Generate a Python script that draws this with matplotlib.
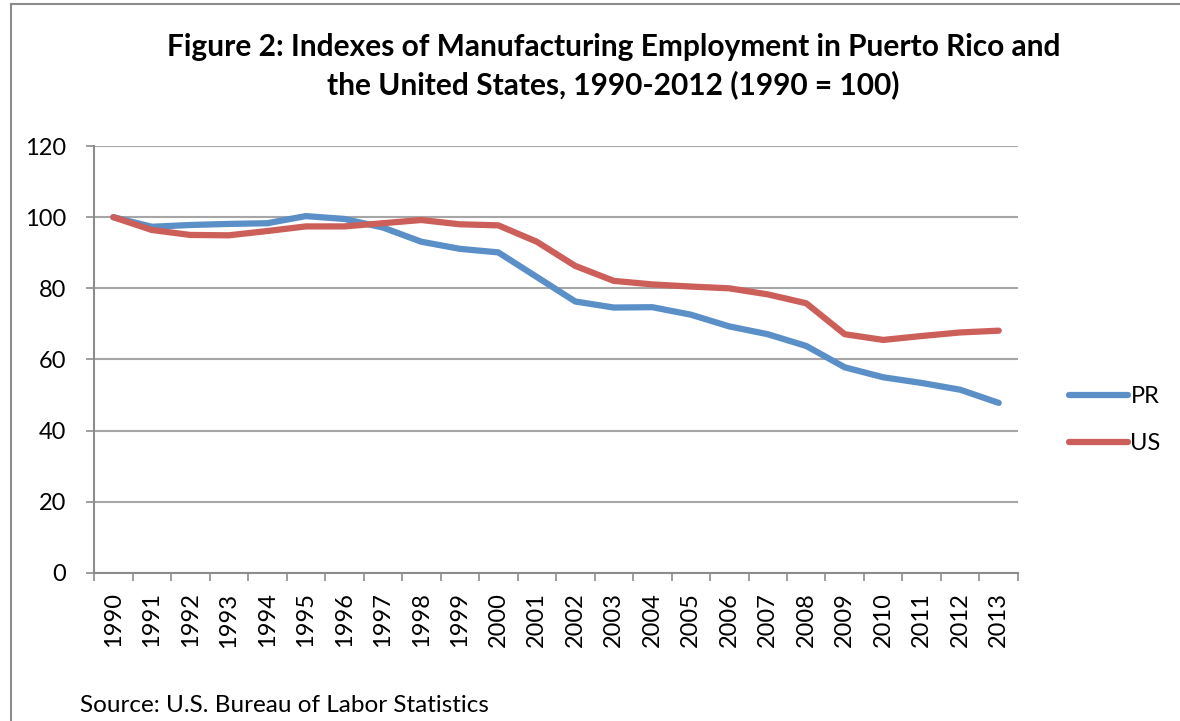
import matplotlib.pyplot as plt
from matplotlib.lines import Line2D

years = [str(y) for y in range(1990, 2014)]
pr = [100, 97.3, 97.8, 98.1, 98.3, 100.3, 99.5, 97.1, 93.1, 91.1, 90.1, 83.2,
      76.3, 74.6, 74.7, 72.6, 69.3, 67.1, 63.8, 57.8, 55.0, 53.4, 51.5, 47.8]
us = [100, 96.4, 95.0, 94.9, 96.1, 97.4, 97.4, 98.3, 99.2, 98.0, 97.7, 93.1,
      86.3, 82.1, 81.1, 80.5, 80.0, 78.3, 75.8, 67.1, 65.5, 66.6, 67.6, 68.1]

fnt = 'Lato'
fig = plt.figure(figsize=(11.8, 7.21), dpi=100)
ax = fig.add_axes([0.0797, 0.2053, 0.783, 0.5922])

x = range(len(years))
ax.plot(x, pr, color='#5b8fc7', lw=4.5, solid_capstyle='round', solid_joinstyle='round', label='PR')
ax.plot(x, us, color='#cd5f5a', lw=4.5, solid_capstyle='round', solid_joinstyle='round', label='US')

ax.set_xlim(-0.5, len(years) - 0.5)
ax.set_ylim(0, 120)
ax.set_yticks(range(0, 121, 20))
ax.set_xticks(list(x))
ax.set_xticklabels(years, rotation=90, fontsize=17, family=fnt)
ax.set_xticks([i - 0.5 for i in range(len(years) + 1)], minor=True)
ax.tick_params(axis='x', which='major', length=0, pad=14)
ax.tick_params(axis='x', which='minor', length=6, color='#8c8c8c', width=1.2)
ax.tick_params(axis='y', length=6, color='#8c8c8c', width=1.2, direction='out', pad=14)
for lab in ax.get_yticklabels():
    lab.set_fontsize(17)
    lab.set_family(fnt)
ax.grid(axis='y', color='#a6a6a6', lw=1.5)
ax.set_axisbelow(True)
for s in ['top', 'right']:
    ax.spines[s].set_visible(False)
ax.spines['left'].set_color('#8c8c8c')
ax.spines['bottom'].set_color('#8c8c8c')
ax.spines['left'].set_linewidth(1.5)
ax.spines['bottom'].set_linewidth(1.5)

fig.legend(loc='center left', bbox_to_anchor=(0.888, 0.417), frameon=False,
           prop={'family': fnt, 'size': 17}, handlelength=2.5, handletextpad=0.1,
           labelspacing=1.1)

fig.text(0.52, 0.935, 'Figure 2: Indexes of Manufacturing Employment in Puerto Rico and',
         ha='center', va='center', fontsize=21.5, fontweight='bold', family=fnt)
fig.text(0.52, 0.882, 'the United States, 1990-2012 (1990 = 100)',
         ha='center', va='center', fontsize=21.5, fontweight='bold', family=fnt)
fig.text(0.068, 0.021, 'Source: U.S. Bureau of Labor Statistics', ha='left', va='center',
         fontsize=17.5, family=fnt)

# chart frame (top and left edges visible)
fig.add_artist(Line2D([0.0093, 1.0], [0.9938, 0.9938], color='#8c8c8c', lw=1.5))
fig.add_artist(Line2D([0.0093, 0.0093], [0.0, 0.9938], color='#8c8c8c', lw=1.5))

fig.savefig('out.png', dpi=100)
